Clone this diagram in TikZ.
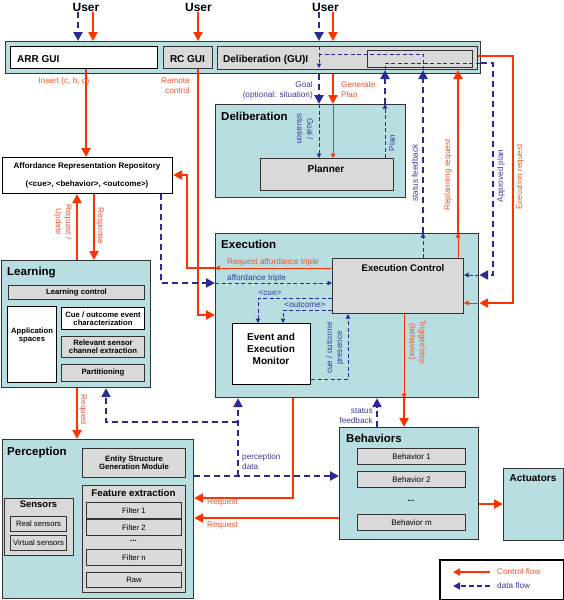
\documentclass[tikz,border=0pt]{standalone}
\usepackage{fontspec}
\setmainfont{Liberation Sans}
\usetikzlibrary{arrows.meta}
\definecolor{cbox}{HTML}{B8DEE2}
\definecolor{cgray}{HTML}{D9D9D9}
\definecolor{cred}{HTML}{FF3300}
\definecolor{cblue}{HTML}{2A2A96}
\definecolor{tred}{HTML}{EE5530}
\definecolor{tblue}{HTML}{3A3A9E}
\definecolor{cedge}{HTML}{333333}
\tikzset{
  cont/.style={draw=cedge, line width=1.2pt, fill=cbox, anchor=north west, inner sep=0pt},
  gbox/.style={draw=cedge, line width=1pt, fill=cgray, anchor=north west, inner sep=0pt, align=center},
  wbox/.style={draw=black, line width=1pt, fill=white, anchor=north west, inner sep=0pt, align=center},
  ttl/.style={font=\fontsize{11.5}{13}\selectfont\bfseries, anchor=base west, inner sep=0pt},
  bt/.style={font=\fontsize{10}{12}\selectfont\bfseries, inner sep=0pt, align=center},
  st/.style={font=\fontsize{7.7}{9}\selectfont\bfseries},
  rt/.style={font=\fontsize{7.7}{9}\selectfont},
  lr/.style={font=\fontsize{8.2}{10}\selectfont, text=tred, inner sep=0pt},
  lb/.style={font=\fontsize{8.2}{10}\selectfont, text=tblue, inner sep=0pt},
  bigtip/.style={-{Triangle[length=9pt,width=9pt]}},
  smalltip/.style={-{Triangle[length=4.5pt,width=4.5pt]}},
  ctrl/.style={draw=cred, line width=2.6pt, bigtip},
  ctrlthin/.style={draw=cred, line width=1pt, smalltip},
  data/.style={draw=cblue, line width=2.7pt, dash pattern=on 6pt off 4pt, bigtip},
  datathin/.style={draw=cblue, line width=1pt, dash pattern=on 4pt off 2.5pt, smalltip},
}
\begin{document}
\begin{tikzpicture}[x=1pt,y=-1pt]
\useasboundingbox (0,0) rectangle (564,600);
% lanes
\foreach \v in {77,78,86,93,94,106,161,187,198,238,258,283,293,319,333,348,377,385,404,423,453,458,490,493,513}
  {\coordinate (x\v) at (\v,0);}
\foreach \v in {54,56,63,175,268,275,283,298,303,310,315,379,422,476,498,504,518,572,586}
  {\coordinate (y\v) at (0,\v);}

% users
\node[font=\fontsize{12}{14}\selectfont\bfseries, anchor=base, inner sep=1pt] (u1) at (86,11) {User};
\node[font=\fontsize{12}{14}\selectfont\bfseries, anchor=base, inner sep=1pt] (u2) at (198.5,11) {User};
\node[font=\fontsize{12}{14}\selectfont\bfseries, anchor=base, inner sep=1pt] (u3) at (325.5,11) {User};

% GUI bar
\node[cont, minimum width=475pt, minimum height=32pt] (gui) at (5,41) {};
\node[wbox, minimum width=147pt, minimum height=22pt] (arrgui) at (10,46) {};
\node[bt, anchor=base west] (arrguiT) at (17,62) {ARR GUI};
\node[gbox, minimum width=49pt, minimum height=22pt] (rcgui) at (163,46) {};
\node[bt, anchor=base] (rcguiT) at (187.5,62) {RC GUI};
\node[gbox, minimum width=260pt, minimum height=23pt] (dgui) at (217,46) {};
\node[gbox, minimum width=105pt, minimum height=17pt] (dguiin) at (367,50) {};
\node[bt, anchor=base west] (dguiT) at (223,62) {Deliberation (GU)I};

% Deliberation
\node[cont, minimum width=190pt, minimum height=93pt] (delib) at (215,104) {};
\node[ttl] (delibT) at (221,120) {Deliberation};
\node[gbox, minimum width=133pt, minimum height=32pt] (planner) at (260,158) {};
\node[bt] (plannerT) at (326,168.5) {Planner};

% ARR
\node[wbox, minimum width=170pt, minimum height=36pt] (arr) at (2,157) {};
\node[font=\fontsize{8}{10}\selectfont\bfseries, inner sep=0pt] (arrT1) at (87,166.5) {Affordance Representation Repository};
\node[font=\fontsize{8}{10}\selectfont\bfseries, inner sep=0pt] (arrT2) at (87,184.5) {(<cue>, <behavior>, <outcome>)};

% Learning
\node[cont, minimum width=149pt, minimum height=127pt] (learn) at (1,260) {};
\node[ttl] (learnT) at (7,275) {Learning};
\node[gbox, st, minimum width=136pt, minimum height=14pt] (lctrl) at (8,285) {Learning control};
\node[wbox, st, minimum width=49pt, minimum height=76pt] (appsp) at (7,306) {Application\\[-1pt]spaces\\[10pt]};
\node[wbox, st, minimum width=83pt, minimum height=22pt] (cueev) at (61,307) {Cue / outcome event\\[-1pt]characterization};
\node[gbox, st, minimum width=83pt, minimum height=21pt] (relev) at (61,336) {Relevant sensor\\[-1pt]channel extraction};
\node[gbox, st, minimum width=83pt, minimum height=17pt] (part) at (61,364) {Partitioning};

% Execution
\node[cont, minimum width=263pt, minimum height=164pt] (exec) at (215,233) {};
\node[ttl] (execT) at (221,248) {Execution};
\node[gbox, minimum width=131pt, minimum height=55pt] (ec) at (332,258) {};
\node[bt, font=\fontsize{9.6}{12}\selectfont\bfseries] (ecT) at (403,268) {Execution Control};
\node[wbox, minimum width=78pt, minimum height=61pt] (mon) at (232,323) {};
\node[bt, font=\fontsize{10}{11.8}\selectfont\bfseries] (monT) at (271,349) {Event and\\Execution\\Monitor};

% Perception
\node[cont, minimum width=191pt, minimum height=159pt] (perc) at (2,439) {};
\node[ttl] (percT) at (7,455) {Perception};
\node[gbox, st, minimum width=103pt, minimum height=29pt] (esgm) at (82,448) {Entity Structure\\[-1pt]Generation Module};
\node[gbox, minimum width=103pt, minimum height=107pt] (fext) at (82,485) {};
\node[bt, font=\fontsize{9.7}{12}\selectfont\bfseries] (fextT) at (133.5,493) {Feature extraction};
\node[gbox, rt, minimum width=95pt, minimum height=16pt] (f1) at (86,502) {Filter 1};
\node[gbox, rt, minimum width=95pt, minimum height=16pt] (f2) at (86,519) {Filter 2};
\node[rt, font=\fontsize{8}{9}\selectfont\bfseries] (fdots) at (133.5,541) {...};
\node[gbox, rt, minimum width=95pt, minimum height=16pt] (fn) at (86,549) {Filter n};
\node[gbox, rt, minimum width=95pt, minimum height=15pt] (raw) at (86,572) {Raw};
\node[gbox, minimum width=69pt, minimum height=57pt] (sens) at (4,498) {};
\node[bt, font=\fontsize{9.5}{12}\selectfont\bfseries] (sensT) at (38.5,504.5) {Sensors};
\node[gbox, rt, minimum width=56pt, minimum height=15pt] (real) at (10,516) {Real sensors};
\node[gbox, rt, minimum width=56pt, minimum height=15pt] (virt) at (10,535) {Virtual sensors};

% Behaviors
\node[cont, minimum width=139pt, minimum height=112pt] (beh) at (339,427) {};
\node[ttl] (behT) at (346,442) {Behaviors};
\node[gbox, font=\fontsize{8}{9}\selectfont, minimum width=108pt, minimum height=16pt] (b1) at (357,448) {Behavior 1};
\node[gbox, font=\fontsize{8}{9}\selectfont, minimum width=108pt, minimum height=16pt] (b2) at (357,471) {Behavior 2};
\node[font=\fontsize{8}{9}\selectfont\bfseries] (bdots) at (411,501) {...};
\node[gbox, font=\fontsize{8}{9}\selectfont, minimum width=108pt, minimum height=16pt] (bm) at (357,514) {Behavior m};

% Actuators
\node[cont, minimum width=60pt, minimum height=72pt] (act) at (503,468) {};
\node[bt] (actT) at (533,478) {Actuators};

% Legend
\node[draw=black, line width=1.8pt, fill=white, anchor=north west, minimum width=124pt, minimum height=40pt] (legend) at (439,559) {};
\coordinate (lgA) at (x490 |- y572);
\coordinate (lgB) at (x453 |- y572);
\coordinate (lgC) at (x490 |- y586);
\coordinate (lgD) at (x453 |- y586);
\draw[draw=cred, line width=1.8pt, -{Triangle[length=7pt,width=7pt]}] (lgA) -- (lgB);
\draw[draw=cblue, line width=1.5pt, dash pattern=on 5pt off 3pt, -{Triangle[length=7pt,width=7pt]}] (lgC) -- (lgD);
\node[lr, anchor=west] (lgT1) at (497,572) {Control flow};
\node[lb, anchor=west] (lgT2) at (497,586) {data flow};

% ---- connectors ----
% users
\draw[data] (x78 |- u1.south) -- (x78 |- gui.north);
\draw[ctrl] (x93 |- u1.south) -- (x93 |- gui.north);
\draw[ctrl] (x198 |- u2.south) -- (x198 |- gui.north);
\draw[data] (x319 |- u3.south) -- (x319 |- gui.north);
\draw[ctrl] (x333 |- u3.south) -- (x333 |- gui.north);
% inside GUI
\draw[datathin] (x319 |- dgui.north) -- (x319 |- dguiin.south);
\draw[datathin, -] (x423 |- dgui.south) -- (x423 |- y54) -- (x319 |- y54);
\draw[datathin, -] (x385 |- dgui.south) -- (x385 |- y63) -- (gui.east |- y63);
% approved plan
\draw[data] (gui.east |- y63) -- (x493 |- y63) -- (x493 |- y275) -- (exec.east |- y275);
\draw[datathin] (exec.east |- y275) -- (ec.east |- y275);
% execution request
\draw[ctrl] (dgui.east |- y56) -- (x513 |- y56) -- (x513 |- y303) -- (exec.east |- y303);
\draw[ctrlthin] (exec.east |- y303) -- (ec.east |- y303);
% replanning request
\draw[ctrlthin] (x458 |- ec.north) -- (x458 |- exec.north);
\draw[ctrl] (x458 |- exec.north) -- (x458 |- dgui.south);
% status feedback
\draw[datathin] (x423 |- ec.north) -- (x423 |- exec.north);
\draw[data] (x423 |- exec.north) -- (x423 |- dgui.south);
% plan
\draw[datathin] (x385 |- planner.north) -- (x385 |- delib.north);
\draw[data] (x385 |- delib.north) -- (x385 |- dgui.south);
% goal
\draw[data] (x319 |- gui.south) -- (x319 |- delib.north);
\draw[datathin] (x319 |- delib.north) -- (x319 |- planner.north);
% generate plan
\draw[ctrl] (x333 |- gui.south) -- (x333 |- delib.north);
\draw[ctrlthin] (x333 |- delib.north) -- (x333 |- planner.north);
% insert
\draw[ctrl] (x86 |- arrgui.south) -- (x86 |- arr.north);
% remote control
\draw[ctrl] (x198 |- rcgui.south) -- (x198 |- y315) -- (exec.west |- y315);
% request affordance triple
\draw[ctrlthin] (ec.west |- y268) -- (exec.west |- y268);
\draw[ctrl] (exec.west |- y268) -- (x187 |- y268) -- (x187 |- y175) -- (arr.east |- y175);
% affordance triple
\draw[data] (x161 |- arr.south) -- (x161 |- y283) -- (exec.west |- y283);
\draw[datathin] (exec.west |- y283) -- (ec.west |- y283);
% request/update, response
\draw[ctrl] (x77 |- learn.north) -- (x77 |- arr.south);
\draw[ctrl] (x94 |- arr.south) -- (x94 |- learn.north);
% learning -> perception
\draw[ctrl] (x77 |- learn.south) -- (x77 |- perc.north);
% perception data
\draw[data] (perc.east |- y476) -- (beh.west |- y476);
\draw[data] (x238 |- y476) -- (x238 |- exec.south);
\draw[data] (x238 |- y422) -- (x106 |- y422) -- (x106 |- learn.south);
% requests to perception
\draw[ctrl] (x293 |- exec.south) -- (x293 |- y498) -- (perc.east |- y498);
\draw[ctrl] (beh.west |- y518) -- (perc.east |- y518);
% trigger
\draw[ctrlthin] (x404 |- ec.south) -- (x404 |- exec.south);
\draw[ctrl] (x404 |- exec.south) -- (x404 |- beh.north);
% behaviors status feedback
\draw[data] (x377 |- beh.north) -- (x377 |- exec.south);
% behaviors -> actuators
\draw[ctrl] (beh.east |- y504) -- (act.west |- y504);
% cue / outcome / presence
\draw[datathin] (ec.west |- y298) -- (x258 |- y298) -- (x258 |- mon.north);
\draw[datathin] (ec.west |- y310) -- (x283 |- y310) -- (x283 |- mon.north);
\draw[datathin] (mon.east |- y379) -- (x348 |- y379) -- (x348 |- ec.south);

% ---- labels ----
\node[lr] (tInsert) at (64,81) {Insert (c, b, o)};
\node[lr, align=right, anchor=east] (tRemote) at (190,86) {Remote\\control};
\node[lb, align=right, anchor=east] (tGoal) at (313,90) {Goal\\(optional: situation)};
\node[lr, align=left, anchor=west] (tGen) at (341,90) {Generate\\Plan};
\node[lb, align=center, rotate=-90] (tGoal2) at (305,129) {Goal /\\situation};
\node[lb, rotate=90] (tPlan) at (392,143) {Plan};
\node[lb, rotate=90] (tStat) at (415,173) {status feedback};
\node[lr, rotate=90] (tReplan) at (448,175) {Replanning request};
\node[lb, rotate=90] (tAppr) at (501,176) {Approved plan};
\node[lr, rotate=90] (tExreq) at (520,177) {Execution request};
\node[lr, align=center, rotate=-90] (tReqUp) at (63,222) {Request /\\Update};
\node[lr, rotate=-90] (tResp) at (100,226) {Response};
\node[lr, rotate=-90] (tReqL) at (83,410) {Request};
\node[lr, anchor=west] (tRAT) at (227,262) {Request affordance triple};
\node[lb, anchor=west] (tAT) at (227,278) {affordance triple};
\node[lb] (tCue) at (270,293) {<cue>};
\node[lb] (tOut) at (305,305) {<outcome>};
\node[lb, align=center, rotate=90] (tPres) at (335,348) {cue / outcome\\presence};
\node[lr, align=center, rotate=-90] (tTrig) at (417,342) {Trigger/stop\\(behavior)};
\node[lb, align=right, anchor=east] (tSF) at (373,416) {status\\feedback};
\node[lb, align=left, anchor=west] (tPD) at (242,462) {perception\\data};
\node[lr, anchor=west] (tReq1) at (207,503) {Request};
\node[lr, anchor=west] (tReq2) at (207,526) {Request};
\end{tikzpicture}
\end{document}
